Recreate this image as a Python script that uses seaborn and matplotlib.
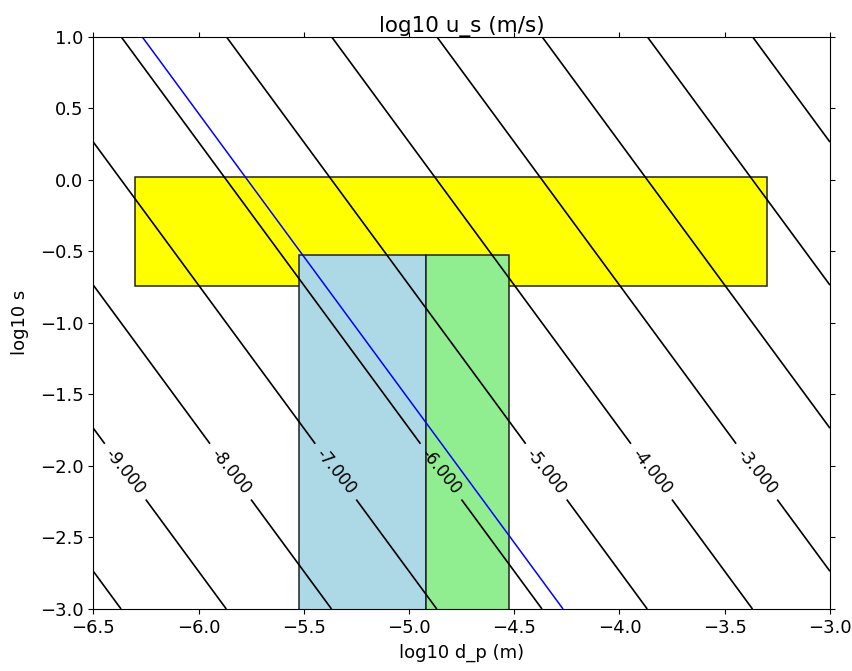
import numpy as np
import pandas as pd
import matplotlib
matplotlib.use('Agg')
import matplotlib.pyplot as plt
import seaborn as sns
from matplotlib.patches import Rectangle

# Stokes settling velocity u_s = g*s*d^2/(18*nu)
g = 9.81
nu = 1e-6

# axis ranges (log10)
log_dp_range = [-6.5, -3.0]
log_s_range = [-3.0, 1.0]

# contour levels (log10 u_s)
levels_black = [-10, -9, -8, -7, -6, -5, -4, -3, -2, -1, 0]
labelled_levels = [-9, -8, -7, -6, -5, -4, -3]
level_blue = [-5.8]
label_y = -2.04

# boxes: name, log10 d_p min, log10 d_p max, log10 s min, log10 s max, colour
box_names = ['yellow', 'blue', 'green']
box_dp_min = [-6.30, -5.524, -4.921]
box_dp_max = [-3.30, -4.921, -4.523]
box_s_min = [-0.745, -3.2, -3.2]
box_s_max = [0.02, -0.528, -0.528]
box_colors = ['yellow', 'lightblue', 'lightgreen']

sns.set_style('white', rc={
    'xtick.direction': 'out', 'ytick.direction': 'out',
    'xtick.top': True, 'ytick.right': True,
    'xtick.bottom': True, 'ytick.left': True,
    'axes.edgecolor': 'black', 'axes.linewidth': 1.0,
    'xtick.major.size': 4, 'ytick.major.size': 4,
    'xtick.major.pad': 5, 'ytick.major.pad': 5,
    'xtick.color': 'black', 'ytick.color': 'black',
    'text.color': 'black', 'axes.labelcolor': 'black',
})
plt.rcParams['font.family'] = ['DejaVu Sans']
plt.rcParams['font.size'] = 13
plt.rcParams['contour.negative_linestyle'] = 'solid'

fig = plt.figure(figsize=(8.53, 6.71), dpi=100)
ax = fig.add_axes([0.1094, 0.0924, 0.973 - 0.1094, 0.9453 - 0.0924])

x = np.linspace(log_dp_range[0], log_dp_range[1], 200)
y = np.linspace(log_s_range[0], log_s_range[1], 200)
X, Y = np.meshgrid(x, y)
Z = np.log10(g * 10**Y * (10**X)**2 / (18 * nu))

boxes = pd.DataFrame({'name': box_names, 'x0': box_dp_min, 'x1': box_dp_max,
                      'y0': box_s_min, 'y1': box_s_max, 'c': box_colors})
for _, b in boxes.iterrows():
    ax.add_patch(Rectangle((b.x0, b.y0), b.x1 - b.x0, b.y1 - b.y0,
                           facecolor=b.c, edgecolor='#222222', lw=1.1, zorder=1))

cs = ax.contour(X, Y, Z, levels=levels_black, colors='black', linewidths=1.2, zorder=2)
cb = ax.contour(X, Y, Z, levels=level_blue, colors='blue', linewidths=1.1, zorder=2)

# label positions along y = label_y
pos = [((lv - label_y - np.log10(g / (18 * nu))) / 2, label_y) for lv in labelled_levels]
ax.clabel(cs, manual=pos, fmt=lambda v: '%.3f' % v,
          fontsize=12, colors='black', inline=True, inline_spacing=6)

ax.set_xlim(log_dp_range)
ax.set_ylim(log_s_range)
ax.set_xticks(np.arange(-6.5, -2.99, 0.5))
ax.set_yticks(np.arange(-3.0, 1.01, 0.5))
ax.tick_params(labelsize=13)
ax.set_xlabel('log10 d_p (m)', fontsize=13, labelpad=5)
ax.set_ylabel('log10 s', fontsize=13, labelpad=8)
ax.set_title('log10 u_s (m/s)', fontsize=15.5, pad=3)
for sp in ax.spines.values():
    sp.set_zorder(5)

fig.savefig('out.png', dpi=100)
